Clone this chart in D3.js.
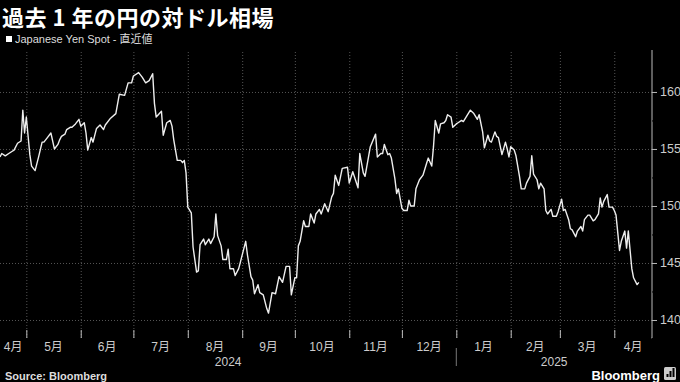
<!DOCTYPE html>
<html lang="ja">
<head>
    <meta charset="UTF-8">
    <title>過去1年の円の対ドル相場</title>
    <script src="https://d3js.org/d3.v7.min.js"></script>
    <style>
        body {
            margin: 0;
            background: #000;
        }

        svg {
            display: block;
            font-family: "Liberation Sans", "Noto Sans CJK JP", sans-serif;
        }

        .grid line {
            stroke: #555;
            stroke-dasharray: 1, 2;
        }

        .grid .domain {
            display: none;
        }
    </style>
</head>
<body>
    <script>
        // 円の対ドル相場 (USD/JPY)
        var dates = [
            "2024-04-16", "2024-04-17", "2024-04-19", "2024-04-21", "2024-04-23", "2024-04-24", "2024-04-26", "2024-04-28",
            "2024-04-29", "2024-04-30", "2024-05-01", "2024-05-03", "2024-05-04", "2024-05-06", "2024-05-08", "2024-05-10",
            "2024-05-11", "2024-05-13", "2024-05-15", "2024-05-17", "2024-05-19", "2024-05-20", "2024-05-21", "2024-05-23",
            "2024-05-24", "2024-05-26", "2024-05-27", "2024-05-29", "2024-05-31", "2024-06-01", "2024-06-03", "2024-06-04",
            "2024-06-05", "2024-06-07", "2024-06-08", "2024-06-10", "2024-06-12", "2024-06-14", "2024-06-15", "2024-06-18",
            "2024-06-21", "2024-06-23", "2024-06-26", "2024-06-28", "2024-06-30", "2024-07-01", "2024-07-04", "2024-07-06",
            "2024-07-08", "2024-07-10", "2024-07-12", "2024-07-13", "2024-07-14", "2024-07-17", "2024-07-18", "2024-07-20",
            "2024-07-22", "2024-07-23", "2024-07-24", "2024-07-26", "2024-07-28", "2024-07-29", "2024-07-30", "2024-07-31",
            "2024-08-01", "2024-08-03", "2024-08-04", "2024-08-06", "2024-08-07", "2024-08-08", "2024-08-10", "2024-08-11",
            "2024-08-13", "2024-08-14", "2024-08-16", "2024-08-17", "2024-08-18", "2024-08-20", "2024-08-21", "2024-08-23",
            "2024-08-24", "2024-08-25", "2024-08-27", "2024-08-28", "2024-08-30", "2024-08-31", "2024-09-03", "2024-09-04",
            "2024-09-06", "2024-09-07", "2024-09-08", "2024-09-10", "2024-09-11", "2024-09-13", "2024-09-15", "2024-09-16",
            "2024-09-18", "2024-09-20", "2024-09-22", "2024-09-24", "2024-09-26", "2024-09-28", "2024-09-29", "2024-10-01",
            "2024-10-02", "2024-10-03", "2024-10-04", "2024-10-06", "2024-10-07", "2024-10-09", "2024-10-10", "2024-10-12",
            "2024-10-13", "2024-10-15", "2024-10-16", "2024-10-18", "2024-10-20", "2024-10-22", "2024-10-23", "2024-10-24",
            "2024-10-26", "2024-10-28", "2024-10-31", "2024-11-01", "2024-11-03", "2024-11-06", "2024-11-07", "2024-11-09",
            "2024-11-10", "2024-11-13", "2024-11-16", "2024-11-17", "2024-11-19", "2024-11-20", "2024-11-21", "2024-11-23",
            "2024-11-24", "2024-11-25", "2024-11-27", "2024-11-28", "2024-11-29", "2024-12-01", "2024-12-02", "2024-12-04",
            "2024-12-05", "2024-12-06", "2024-12-08", "2024-12-09", "2024-12-11", "2024-12-13", "2024-12-15", "2024-12-16",
            "2024-12-18", "2024-12-19", "2024-12-20", "2024-12-22", "2024-12-23", "2024-12-25", "2024-12-26", "2024-12-27",
            "2024-12-29", "2024-12-30", "2025-01-01", "2025-01-02", "2025-01-04", "2025-01-05", "2025-01-07", "2025-01-09",
            "2025-01-11", "2025-01-13", "2025-01-14", "2025-01-16", "2025-01-17", "2025-01-19", "2025-01-20", "2025-01-21",
            "2025-01-23", "2025-01-24", "2025-01-25", "2025-01-27", "2025-01-29", "2025-01-30", "2025-01-31", "2025-02-01",
            "2025-02-03", "2025-02-04", "2025-02-06", "2025-02-07", "2025-02-09", "2025-02-10", "2025-02-12", "2025-02-13",
            "2025-02-14", "2025-02-16", "2025-02-17", "2025-02-18", "2025-02-20", "2025-02-21", "2025-02-22", "2025-02-24",
            "2025-02-25", "2025-02-27", "2025-02-28", "2025-03-02", "2025-03-03", "2025-03-04", "2025-03-06", "2025-03-07",
            "2025-03-08", "2025-03-10", "2025-03-11", "2025-03-13", "2025-03-14", "2025-03-15", "2025-03-17", "2025-03-18",
            "2025-03-20", "2025-03-21", "2025-03-23", "2025-03-24", "2025-03-25", "2025-03-26", "2025-03-28", "2025-03-29",
            "2025-03-31", "2025-04-01", "2025-04-02", "2025-04-04", "2025-04-05", "2025-04-07", "2025-04-08", "2025-04-09",
            "2025-04-11", "2025-04-12", "2025-04-14", "2025-04-15"
        ];

        var values = [
            154.3, 154.6, 154.4, 154.6, 154.8, 154.9, 155.5, 155.7,
            158.4, 156.4, 157.8, 154.5, 153.5, 153.1, 154.3, 155.6,
            155.6, 156.0, 156.4, 155.0, 155.4, 155.8, 156.1, 156.3,
            156.7, 156.9, 156.9, 157.2, 157.6, 157.0, 157.3, 156.4,
            154.9, 156.0, 155.6, 156.8, 157.1, 156.7, 157.1, 157.7,
            158.1, 159.8, 159.7, 160.8, 160.8, 161.4, 161.7, 161.3,
            160.8, 161.0, 161.6, 159.0, 157.8, 158.3, 156.2, 157.3,
            157.5, 157.0, 155.8, 154.0, 154.0, 153.8, 154.0, 152.9,
            149.9, 149.4, 146.4, 144.2, 144.3, 146.6, 147.1, 146.6,
            147.1, 146.7, 147.3, 149.3, 147.4, 146.5, 145.3, 145.3,
            146.2, 144.5, 144.5, 143.9, 144.5, 145.1, 146.9, 145.7,
            143.8, 143.5, 142.3, 143.1, 142.4, 142.2, 141.0, 140.6,
            142.4, 142.3, 143.8, 143.3, 144.7, 144.7, 142.2, 143.7,
            143.7, 146.5, 146.9, 148.7, 148.2, 148.2, 149.3, 148.5,
            149.3, 149.7, 149.3, 150.2, 149.5, 150.8, 151.1, 152.7,
            151.8, 153.3, 153.4, 152.0, 153.0, 151.6, 154.6, 152.9,
            152.6, 155.2, 156.3, 154.3, 154.6, 154.6, 155.4, 154.5,
            154.6, 154.2, 152.4, 151.1, 151.5, 149.8, 149.6, 149.6,
            150.5, 150.0, 150.0, 151.5, 152.3, 152.7, 153.7, 154.2,
            153.5, 155.2, 157.5, 156.4, 157.2, 157.3, 157.5, 158.0,
            157.8, 156.9, 157.2, 157.3, 157.5, 157.4, 157.9, 158.4,
            158.1, 157.6, 158.0, 156.5, 155.1, 156.2, 155.7, 155.6,
            156.5, 156.1, 156.0, 154.5, 155.6, 155.0, 154.3, 155.2,
            154.9, 154.4, 152.6, 151.5, 151.5, 152.0, 152.6, 154.4,
            152.8, 152.3, 151.5, 152.0, 151.5, 149.6, 149.3, 149.7,
            149.1, 149.1, 149.5, 150.6, 149.6, 149.7, 148.8, 148.0,
            147.9, 147.3, 147.8, 148.2, 147.8, 148.8, 149.2, 149.2,
            148.7, 148.8, 149.3, 150.7, 149.9, 150.4, 151.0, 149.9,
            149.9, 149.6, 149.2, 146.1, 146.9, 147.8, 146.3, 147.8,
            144.5, 143.7, 143.1, 143.3
        ];

        var yTicks = [140, 145, 150, 155, 160];
        var yMinorTicks = [142.5, 147.5, 152.5, 157.5];
        var years = ["2024", "2025"];

        var title = "過去 1 年の円の対ドル相場";
        var legendLabel = "Japanese Yen Spot - 直近値";
        var source = "Source: Bloomberg";

        var width = 680,
            height = 382;
        var margin = { top: 50, right: 28, bottom: 44, left: 0 };
        var innerW = width - margin.left - margin.right,
            innerH = height - margin.top - margin.bottom;

        var parse = d3.timeParse("%Y-%m-%d");
        var data = dates.map(function (d, i) {
            return { date: parse(d), value: values[i] };
        });

        var svg = d3.select("body")
            .append("svg")
            .attr("width", width)
            .attr("height", height);

        svg.append("rect")
            .attr("width", width)
            .attr("height", height)
            .attr("fill", "#000");

        var x = d3.scaleTime()
            .domain([parse("2024-04-16"), new Date(2025, 3, 22, 12)])
            .range([0, innerW]);

        var y = d3.scaleLinear()
            .domain([138.42, 163.68])
            .range([innerH, 0]);

        var g = svg.append("g")
            .attr("transform", "translate(" + margin.left + "," + margin.top + ")");

        var months = x.ticks(d3.timeMonth.every(1));

        // grid
        g.append("g")
            .attr("class", "grid")
            .call(d3.axisLeft(y).tickValues(yTicks).tickSize(-innerW).tickFormat(""));

        g.append("g")
            .attr("class", "grid")
            .attr("transform", "translate(0," + innerH + ")")
            .call(d3.axisBottom(x).tickValues(months).tickSize(-innerH).tickFormat(""));

        // line
        var line = d3.line()
            .x(function (d) { return x(d.date); })
            .y(function (d) { return y(d.value); });

        g.append("path")
            .datum(data)
            .attr("fill", "none")
            .attr("stroke", "#eee")
            .attr("stroke-width", 1.4)
            .attr("stroke-linejoin", "round")
            .attr("d", line);

        // right axis
        var yAxis = g.append("g")
            .attr("transform", "translate(" + innerW + ",0)")
            .call(d3.axisRight(y).tickValues(yTicks).tickSize(5).tickPadding(3).tickFormat(d3.format("d")));

        g.append("g")
            .attr("transform", "translate(" + innerW + ",0)")
            .call(d3.axisRight(y).tickValues(yMinorTicks).tickSize(3).tickFormat(""))
            .select(".domain").remove();

        yAxis.select(".domain").attr("stroke", "#bbb").attr("d", "M0,0V" + innerH + "H-0.5");
        yAxis.selectAll(".tick line").attr("stroke", "#bbb");
        yAxis.selectAll(".tick text")
            .attr("fill", "#ccc")
            .style("font-size", "12.5px");

        // bottom axis ticks
        var xAxis = g.append("g")
            .attr("transform", "translate(0," + innerH + ")")
            .call(d3.axisBottom(x).tickValues(months).tickSize(-8).tickFormat(""));
        xAxis.select(".domain").remove();
        xAxis.selectAll(".tick line").attr("stroke", "#bbb");

        // month labels centred in each visible month
        var monthStarts = [x.domain()[0]].concat(months);
        var monthLabels = monthStarts.map(function (m, i) {
            var end = i < monthStarts.length - 1 ? monthStarts[i + 1] : x.domain()[1];
            return { date: m, mid: (x(m) + x(end)) / 2 };
        });

        g.selectAll(".month")
            .data(monthLabels)
            .enter().append("text")
            .attr("class", "month")
            .attr("x", function (d) { return d.mid; })
            .attr("y", innerH + 13)
            .attr("text-anchor", "middle")
            .attr("fill", "#ccc")
            .style("font-size", "12px")
            .text(function (d) { return (d.date.getMonth() + 1) + "月"; });

        var jan = parse("2025-01-01");
        var yearLabels = [
            { label: years[0], mid: (0 + x(jan)) / 2 },
            { label: years[1], mid: (x(jan) + innerW) / 2 }
        ];

        g.selectAll(".year")
            .data(yearLabels)
            .enter().append("text")
            .attr("class", "year")
            .attr("x", function (d) { return d.mid; })
            .attr("y", innerH + 28)
            .attr("text-anchor", "middle")
            .attr("fill", "#ccc")
            .style("font-size", "12px")
            .text(function (d) { return d.label; });

        g.append("line")
            .attr("x1", x(jan)).attr("x2", x(jan))
            .attr("y1", innerH + 10).attr("y2", innerH + 28)
            .attr("stroke", "#777");

        // title and legend
        svg.append("text")
            .attr("x", 2)
            .attr("y", 26)
            .attr("fill", "#fff")
            .style("font-family", "'Noto Sans CJK JP', sans-serif")
            .style("font-size", "22px")
            .style("font-weight", "bold")
            .style("letter-spacing", "0.5px")
            .text(title);

        svg.append("rect")
            .attr("x", 6).attr("y", 36)
            .attr("width", 6).attr("height", 6)
            .attr("fill", "#fff");

        svg.append("text")
            .attr("x", 15)
            .attr("y", 43)
            .attr("fill", "#ddd")
            .style("font-size", "11px")
            .text(legendLabel);

        // footer
        svg.append("text")
            .attr("x", 5)
            .attr("y", 380)
            .attr("fill", "#ddd")
            .style("font-size", "11px")
            .style("font-weight", "bold")
            .text(source);

        svg.append("text")
            .attr("x", 660)
            .attr("y", 380)
            .attr("text-anchor", "end")
            .attr("fill", "#fff")
            .style("font-size", "13px")
            .style("font-weight", "bold")
            .text("Bloomberg");

        svg.append("rect")
            .attr("x", 664).attr("y", 367)
            .attr("width", 12).attr("height", 13)
            .attr("rx", 1.5)
            .attr("fill", "#ccc");

        svg.selectAll(".logo-bar")
            .data([3, 6, 9])
            .enter().append("rect")
            .attr("x", function (d, i) { return 666.5 + i * 3; })
            .attr("y", function (d) { return 377 - d; })
            .attr("width", 2)
            .attr("height", function (d) { return d; })
            .attr("fill", "#000");
    </script>
</body>
</html>
